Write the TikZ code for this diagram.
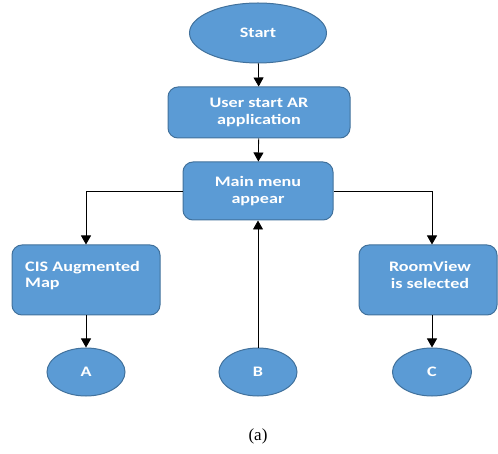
\documentclass[tikz,border=0pt]{standalone}
\usepackage{fontspec}
\setmainfont{Carlito}
\newfontfamily\boxfont[FakeStretch=1.25]{Carlito Bold}
\newfontfamily\capfont{Liberation Serif}
\usetikzlibrary{shapes.geometric,arrows.meta}
\definecolor{boxfill}{HTML}{5B9BD5}
\definecolor{boxline}{HTML}{41719C}
\begin{document}
\begin{tikzpicture}[x=1pt,y=-1pt,
  every node/.style={inner sep=0pt},
  proc/.style={draw=boxline,line width=1pt,fill=boxfill,rounded corners=10pt,
    text=white,font=\boxfont\fontsize{14.5}{16.5}\selectfont,align=center},
  term/.style={ellipse,draw=boxline,line width=1pt,fill=boxfill,text=white,
    font=\boxfont\fontsize{14.5}{16.5}\selectfont},
  conn/.style={line width=0.8pt,-{Triangle[width=10pt,length=9pt]}}]
\useasboundingbox (0,0) rectangle (498,454);
\node[term,minimum width=137pt,minimum height=60pt] (start) at (258,33) {Start};
\node[proc,minimum width=182pt,minimum height=51pt] (user) at (259,112.5) {User start AR\\application};
\node[proc,minimum width=150pt,minimum height=58pt] (menu) at (258,191) {Main menu\\appear};
\node[proc,minimum width=148pt,minimum height=70pt] (cis) at (86,280) {};
\node[anchor=north west,text=white,font=\boxfont\fontsize{14.5}{16.5}\selectfont,align=left] (cist) at (25,261) {CIS Augmented\\Map};
\node[proc,minimum width=138pt,minimum height=70pt] (roombox) at (428,280) {};
\node[text=white,font=\boxfont\fontsize{14.5}{16.5}\selectfont,align=center] (roomt) at (430,275) {RoomView\\is selected};
\node[term,minimum width=78pt,minimum height=48pt] (a) at (86,372) {A};
\node[term,minimum width=78pt,minimum height=48pt] (b) at (258,372) {B};
\node[term,minimum width=79pt,minimum height=48pt] (c) at (432,372) {C};
\node[font=\capfont\fontsize{17}{19}\selectfont] (cap) at (258,436) {(a)};
\draw[conn] (start) -- (user);
\draw[conn] (user) -- (menu);
\draw[conn] (menu.west) -| (cis.north);
\draw[conn] (menu.east) -| (roombox.north -| c.north);
\draw[conn] (b) -- (menu);
\draw[conn] (cis) -- (a);
\draw[conn] (roombox.south -| c.north) -- (c);
\end{tikzpicture}
\end{document}
